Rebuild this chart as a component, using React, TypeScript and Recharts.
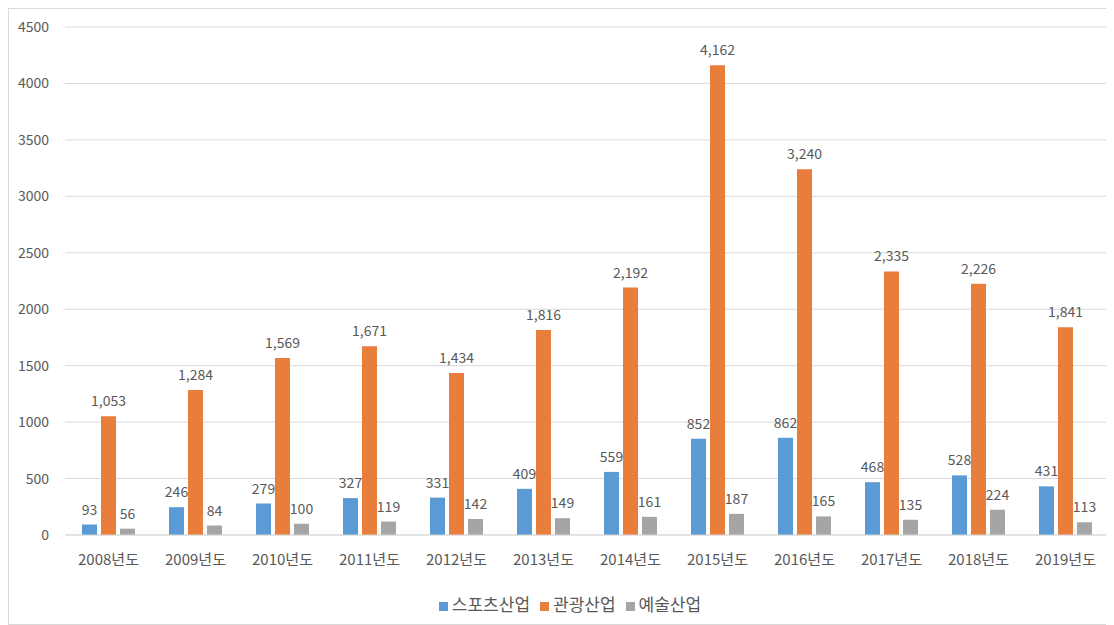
import React from "react";
import { BarChart, Bar, XAxis, YAxis, CartesianGrid, Legend, LabelList } from "recharts";

const categories = ["2008년도", "2009년도", "2010년도", "2011년도", "2012년도", "2013년도", "2014년도", "2015년도", "2016년도", "2017년도", "2018년도", "2019년도"];
const sports = [93, 246, 279, 327, 331, 409, 559, 852, 862, 468, 528, 431];
const tourism = [1053, 1284, 1569, 1671, 1434, 1816, 2192, 4162, 3240, 2335, 2226, 1841];
const arts = [56, 84, 100, 119, 142, 149, 161, 187, 165, 135, 224, 113];
const yTicks = [0, 500, 1000, 1500, 2000, 2500, 3000, 3500, 4000, 4500];
const seriesOrder = ["sports", "tourism", "arts"];

const data = categories.map((c, i) => ({ name: c, sports: sports[i], tourism: tourism[i], arts: arts[i] }));

const FONT = "'Noto Sans CJK KR', 'Noto Sans', sans-serif";
const TXT = "#595959";
const fmt = (v: any) => Number(v).toLocaleString("en-US");

export default function App() {
  return (
    <div style={{ position: "relative", width: 1102, height: 615, border: "1px solid #d9d9d9", fontFamily: FONT }}>
      <BarChart
        width={1102}
        height={615}
        data={data}
        margin={{ top: 18, right: 2, left: 0, bottom: 3 }}
        barSize={15}
        barGap={4}
      >
        <CartesianGrid vertical={false} stroke="#d9d9d9" />
        <XAxis
          dataKey="name"
          height={56}
          tickLine={false}
          axisLine={{ stroke: "#d9d9d9" }}
          tickMargin={13}
          tick={{ fill: TXT, fontSize: 15, fontFamily: FONT }}
          interval={0}
        />
        <YAxis
          width={56}
          domain={[0, 4500]}
          ticks={yTicks}
          tickLine={false}
          axisLine={false}
          tickMargin={10}
          tick={{ fill: TXT, fontSize: 14, fontFamily: FONT }}
        />
        <Legend
          verticalAlign="bottom"
          height={30}
          iconType="square"
          iconSize={9}
          itemSorter={(item: any) => seriesOrder.indexOf(item.dataKey)}
          wrapperStyle={{ fontFamily: FONT, fontSize: 17, left: 0, width: 1102, paddingLeft: 30, boxSizing: "border-box" }}
          formatter={(value: any) => <span style={{ color: TXT }}>{value}</span>}
        />
        <Bar dataKey="sports" name="스포츠산업" fill="#5B9BD5" isAnimationActive={false}>
          <LabelList dataKey="sports" position="top" offset={10} formatter={fmt} style={{ fill: TXT, fontSize: 14, fontFamily: FONT }} />
        </Bar>
        <Bar dataKey="tourism" name="관광산업" fill="#E97E3C" isAnimationActive={false}>
          <LabelList dataKey="tourism" position="top" offset={10} formatter={fmt} style={{ fill: TXT, fontSize: 14, fontFamily: FONT }} />
        </Bar>
        <Bar dataKey="arts" name="예술산업" fill="#A5A5A5" isAnimationActive={false}>
          <LabelList dataKey="arts" position="top" offset={10} formatter={fmt} style={{ fill: TXT, fontSize: 14, fontFamily: FONT }} />
        </Bar>
      </BarChart>
    </div>
  );
}
